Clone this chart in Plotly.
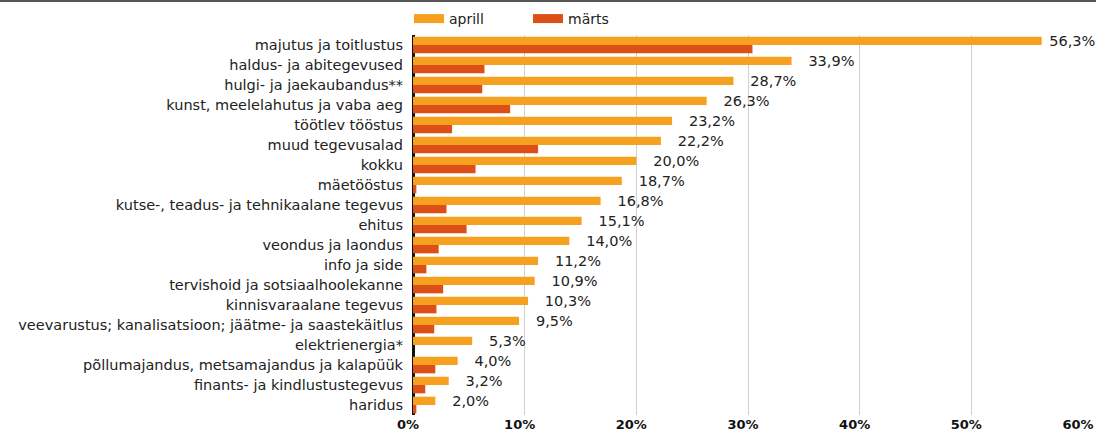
import plotly.graph_objects as go

categories = [
    "majutus ja toitlustus",
    "haldus- ja abitegevused",
    "hulgi- ja jaekaubandus**",
    "kunst, meelelahutus ja vaba aeg",
    "töötlev tööstus",
    "muud tegevusalad",
    "kokku",
    "mäetööstus",
    "kutse-, teadus- ja tehnikaalane tegevus",
    "ehitus",
    "veondus ja laondus",
    "info ja side",
    "tervishoid ja sotsiaalhoolekanne",
    "kinnisvaraalane tegevus",
    "veevarustus; kanalisatsioon; jäätme- ja saastekäitlus",
    "elektrienergia*",
    "põllumajandus, metsamajandus ja kalapüük",
    "finants- ja kindlustustegevus",
    "haridus",
]
aprill = [56.3, 33.9, 28.7, 26.3, 23.2, 22.2, 20.0, 18.7, 16.8, 15.1, 14.0, 11.2, 10.9, 10.3, 9.5, 5.3, 4.0, 3.2, 2.0]
marts = [30.4, 6.4, 6.2, 8.7, 3.5, 11.2, 5.6, 0.3, 3.0, 4.8, 2.3, 1.2, 2.7, 2.1, 1.9, None, 2.0, 1.1, 0.3]
x_ticks = [0, 10, 20, 30, 40, 50, 60]
x_tick_labels = ["0%", "10%", "20%", "30%", "40%", "50%", "60%"]

C_APR = "#F5A11F"
C_MAR = "#DC5018"
FONT = "DejaVu Sans"

labels = [(" " if v > 50 else "   ") + f"{v:.1f}".replace(".", ",") + "%" for v in aprill]

fig = go.Figure()
fig.add_trace(go.Bar(
    y=categories, x=aprill, orientation="h", name="aprill",
    marker=dict(color=C_APR, line=dict(width=0)),
    text=labels, textposition="outside", cliponaxis=False,
    constraintext="none",
    textfont=dict(family=FONT, size=14.5, color="#222"),
    showlegend=False, hoverinfo="x+y",
))
fig.add_trace(go.Bar(
    y=categories, x=marts, orientation="h", name="märts",
    marker=dict(color=C_MAR, line=dict(width=0)),
    showlegend=False, hoverinfo="x+y",
))
# legend swatches
fig.add_trace(go.Scatter(x=[None], y=[None], mode="lines", name="aprill",
                         line=dict(color=C_APR, width=9)))
fig.add_trace(go.Scatter(x=[None], y=[None], mode="lines", name="märts",
                         line=dict(color=C_MAR, width=9)))

fig.update_layout(
    width=1096, height=438,
    margin=dict(l=413, r=13, t=35, b=23, autoexpand=False),
    paper_bgcolor="white", plot_bgcolor="white",
    barmode="group", bargap=0.165, bargroupgap=0,
    font=dict(family=FONT, size=14, color="#222"),
    legend=dict(orientation="h", x=-4 / 670, xanchor="left", y=1.0, yanchor="bottom",
                entrywidth=74, entrywidthmode="pixels",
                font=dict(family=FONT, size=14, color="#222"),
                itemwidth=30, tracegroupgap=0),
    xaxis=dict(range=[0, 60], tickvals=x_ticks, ticktext=x_tick_labels,
               showgrid=True, gridcolor="#d0d0d0", gridwidth=1,
               zeroline=True, zerolinecolor="#111111", zerolinewidth=3,
               tickfont=dict(family=FONT, size=13, color="#111", weight="bold"),
               ticks="", showline=False, ticklabelshift=-5),
    yaxis=dict(categoryorder="array", categoryarray=categories, autorange="reversed",
               tickfont=dict(family=FONT, size=14.5, color="#222"),
               ticks="", showgrid=False, showline=False, ticklabelstandoff=9),
    shapes=[dict(type="line", xref="paper", yref="paper",
                 x0=-413 / 670, x1=(1096 - 413) / 670, y0=1 + 34 / 380, y1=1 + 34 / 380,
                 line=dict(color="#555", width=2))],
)

fig.write_html("out.html", config={"displayModeBar": False},
               post_script="document.body.style.margin='0px';document.body.style.overflow='hidden';")
